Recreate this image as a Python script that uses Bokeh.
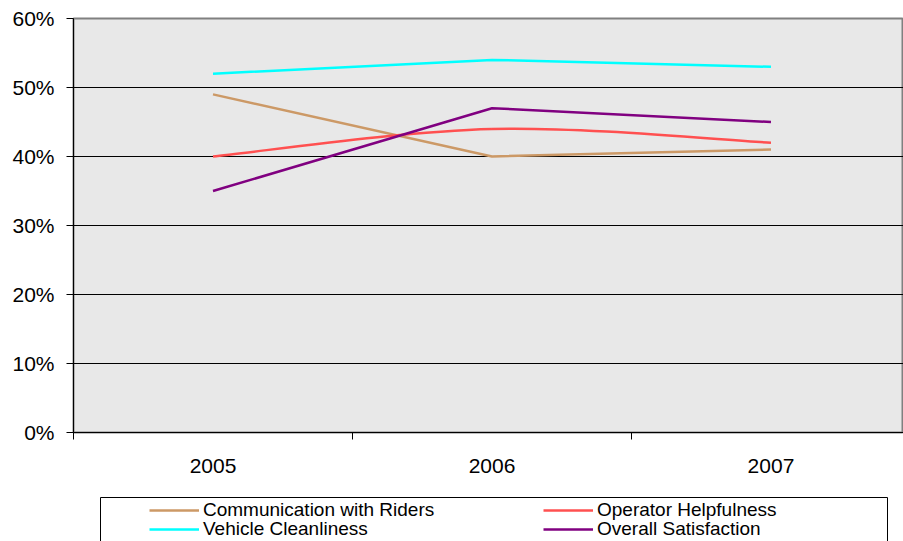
import numpy as np
from bokeh.plotting import figure
from bokeh.layouts import column
from bokeh.models import Range1d, FixedTicker, Legend, LegendItem, BoxAnnotation
from bokeh.embed import file_html
from bokeh.resources import INLINE

# ---- data ----
years = ["2005", "2006", "2007"]
communication = [49, 40, 41]
operator = [40, 44, 42]
cleanliness = [52, 54, 53]
overall = [35, 47, 45]
y_ticks = [0, 10, 20, 30, 40, 50, 60]
y_tick_labels = ["0%", "10%", "20%", "30%", "40%", "50%", "60%"]

series_names = ["Communication with Riders", "Operator Helpfulness",
                "Vehicle Cleanliness", "Overall Satisfaction"]
series_values = [communication, operator, cleanliness, overall]
colors = ["#cc9966", "#ff5050", "#00ffff", "#800080"]

FONT = "Liberation Sans"
LW = 2.5

x = [i + 0.5 for i in range(len(years))]

# ---------------- main chart ----------------
p = figure(width=903, height=490, output_backend="svg", toolbar_location=None,
           x_range=Range1d(0, 2.975), y_range=Range1d(0, 60),
           min_border_left=73, min_border_right=0, min_border_top=18,
           min_border_bottom=58)
p.background_fill_color = "#e8e8e8"
p.border_fill_color = "white"
p.outline_line_color = "#808080"
p.outline_line_width = 2

p.xgrid.visible = False
p.ygrid.ticker = FixedTicker(ticks=y_ticks[1:-1])
p.ygrid.grid_line_color = "black"
p.ygrid.grid_line_width = 1

p.yaxis.ticker = FixedTicker(ticks=y_ticks, minor_ticks=[])
p.yaxis.major_label_overrides = dict(zip(y_ticks, y_tick_labels))
p.yaxis.major_tick_out = 7
p.yaxis.major_tick_in = 0
p.yaxis.minor_tick_line_color = None
p.yaxis.axis_line_color = "black"
p.yaxis.major_tick_line_color = "black"
p.yaxis.major_label_text_font = FONT
p.yaxis.major_label_text_font_size = "21px"
p.yaxis.major_label_text_color = "black"
p.yaxis.major_label_standoff = 12

p.xaxis.ticker = FixedTicker(ticks=x, minor_ticks=list(range(len(years) + 1)))
p.xaxis.major_label_overrides = dict(zip(x, years))
p.xaxis.major_tick_line_color = None
p.xaxis.major_tick_out = 0
p.xaxis.major_tick_in = 0
p.xaxis.minor_tick_line_color = "black"
p.xaxis.minor_tick_out = 7
p.xaxis.minor_tick_in = 0
p.xaxis.axis_line_color = "black"
p.xaxis.major_label_text_font = FONT
p.xaxis.major_label_text_font_size = "21px"
p.xaxis.major_label_text_color = "black"
p.xaxis.major_label_standoff = 19

p.line(x, communication, line_color=colors[0], line_width=LW)

# smoothed line (Catmull-Rom style bezier) for Operator Helpfulness
xs = np.array(x, dtype=float)
ys = np.array(operator, dtype=float)
n = len(xs)
idx = np.arange(n)
prev_i = np.maximum(idx - 1, 0)
next_i = np.minimum(idx + 1, n - 1)
tx = (xs[next_i] - xs[prev_i]) / 6.0
ty = (ys[next_i] - ys[prev_i]) / 6.0
p.bezier(x0=xs[:-1], y0=ys[:-1], x1=xs[1:], y1=ys[1:],
         cx0=xs[:-1] + tx[:-1], cy0=ys[:-1] + ty[:-1],
         cx1=xs[1:] - tx[1:], cy1=ys[1:] - ty[1:],
         line_color=colors[1], line_width=LW)

p.line(x, cleanliness, line_color=colors[2], line_width=LW)
p.line(x, overall, line_color=colors[3], line_width=LW)

# ---------------- legend strip ----------------
# its frame is aligned with the main chart's frame (left edge at 73px),
# so the x range maps page pixels 73..903
leg = figure(width=903, height=51, output_backend="svg", toolbar_location=None,
             x_axis_type=None, y_axis_type=None,
             x_range=Range1d(73, 903), y_range=Range1d(0, 51),
             min_border=0, min_border_left=0, min_border_right=0,
             min_border_top=0, min_border_bottom=0)
leg.outline_line_color = None
leg.background_fill_color = "white"
leg.border_fill_color = "white"
leg.extra_y_ranges = {"offscreen": Range1d(1000, 1100)}

leg.add_layout(BoxAnnotation(left=100, right=887, top=44, bottom=-20,
                             fill_color=None, fill_alpha=0,
                             line_color="black", line_alpha=1,
                             line_width=1))

# legend-only renderers (drawn outside the visible range)
legend_renderers = [leg.line(x, vals, line_color=c, line_width=LW,
                             y_range_name="offscreen")
                    for vals, c in zip(series_values, colors)]
positions = [(76, 18), (470, 18), (76, -1), (470, -1)]
for name, r, loc in zip(series_names, legend_renderers, positions):
    lg = Legend(items=[LegendItem(label=name, renderers=[r])], location=loc,
                orientation="vertical", padding=0, margin=0, spacing=0,
                glyph_width=50, glyph_height=26, label_height=26,
                label_standoff=4, label_text_font=FONT,
                label_text_font_size="19px", label_text_color="black",
                border_line_color=None, background_fill_alpha=0)
    leg.add_layout(lg, "center")

layout = column(p, leg, spacing=0)
open("out.html", "w").write(file_html(layout, INLINE))
